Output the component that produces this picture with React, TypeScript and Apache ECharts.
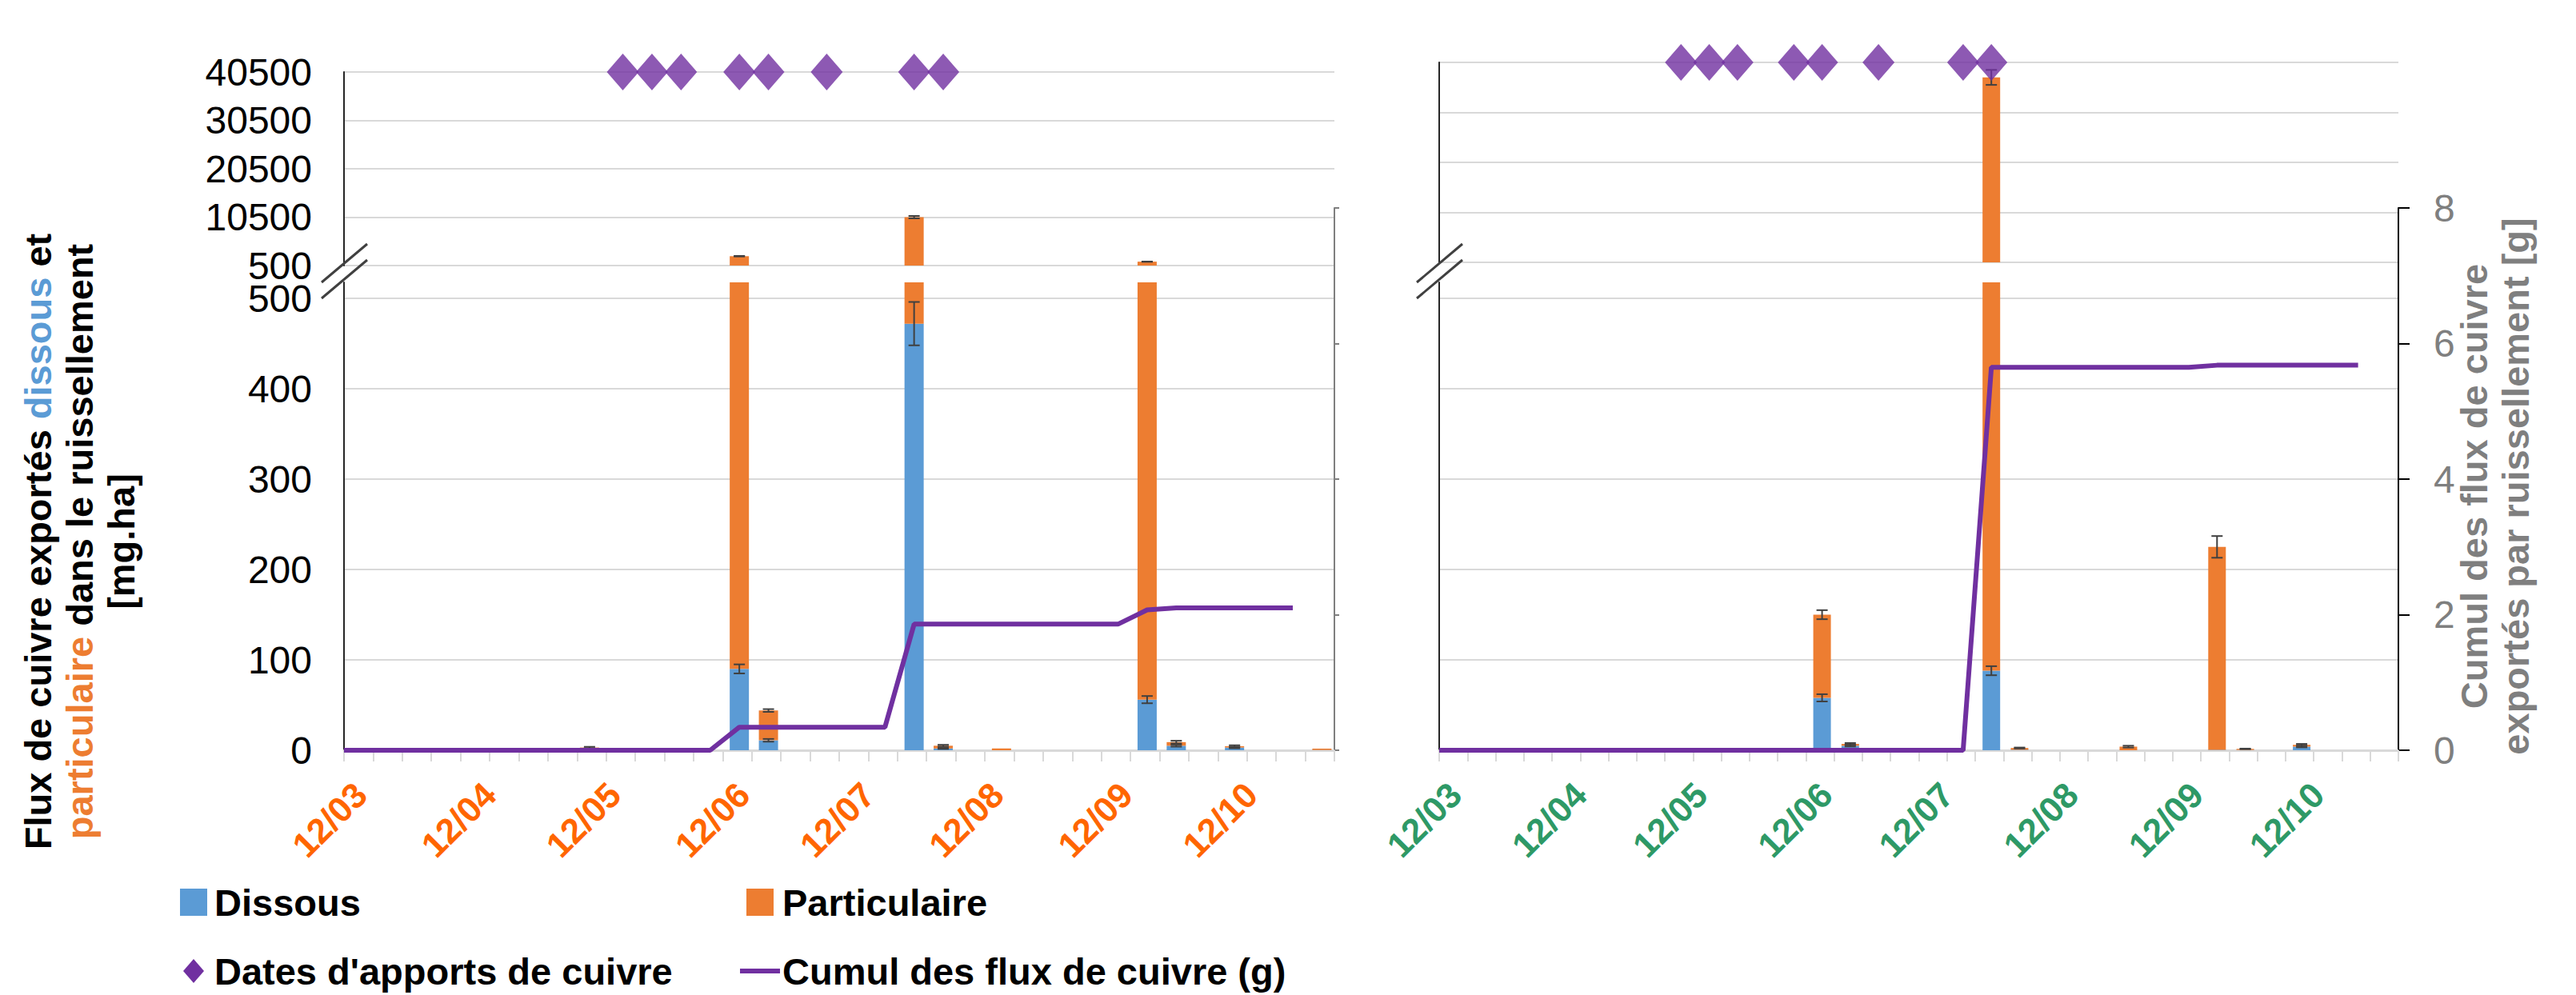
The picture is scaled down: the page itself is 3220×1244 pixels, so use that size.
import React, { useEffect, useRef } from "react";
import * as echarts from "echarts";

// ---------------- data ----------------
const START_DATE = "2012-02-26";
const END_DATE = "2012-10-21";

const UPPER_TICK_LABELS = ["500", "10500", "20500", "30500", "40500"];
const LOWER_TICK_LABELS = ["0", "100", "200", "300", "400", "500"];
const CUMUL_TICK_LABELS = ["0", "2", "4", "6", "8"];

// Left panel (orange dates)
const LEFT_BAR_DATES = ["2012-04-25", "2012-05-31", "2012-06-07", "2012-07-12", "2012-07-19", "2012-08-02", "2012-09-06", "2012-09-13", "2012-09-27", "2012-10-18"];
const LEFT_DISSOUS = [1, 90, 11, 472, 2, 0, 56, 5, 3, 0.3];
const LEFT_PARTICULAIRE = [2, 2344, 33, 10028, 3, 2, 1244, 4, 1.5, 1.5];
const LEFT_ERR_DISSOUS = [0, 5, 1.5, 24, 0.5, 0, 4, 1, 0.8, 0];
const LEFT_ERR_TOTAL = [0.8, 60, 1.5, 250, 1, 0, 30, 1.5, 1, 0];
const LEFT_APPORT_DATES = ["2012-05-03", "2012-05-10", "2012-05-17", "2012-05-31", "2012-06-07", "2012-06-21", "2012-07-12", "2012-07-19"];
const LEFT_CUMUL_DATES = ["2012-02-26", "2012-05-24", "2012-05-31", "2012-07-05", "2012-07-12", "2012-08-30", "2012-09-06", "2012-09-13", "2012-10-11"];
const LEFT_CUMUL = [0, 0, 0.34, 0.34, 1.86, 1.86, 2.07, 2.1, 2.1];

// Right panel (green dates)
const RIGHT_BAR_DATES = ["2012-05-31", "2012-06-07", "2012-07-12", "2012-07-19", "2012-08-15", "2012-09-06", "2012-09-13", "2012-09-27"];
const RIGHT_DISSOUS = [58, 5, 88, 0.5, 0, 0.5, 0.3, 4];
const RIGHT_PARTICULAIRE = [92, 2, 37412, 2, 4, 224.5, 1.2, 2];
const RIGHT_ERR_DISSOUS = [4, 0.8, 5, 0, 0, 0, 0, 0.8];
const RIGHT_ERR_TOTAL = [5, 1, 1500, 0.5, 1, 12, 0.3, 1];
const RIGHT_APPORT_DATES = ["2012-04-26", "2012-05-03", "2012-05-10", "2012-05-24", "2012-05-31", "2012-06-14", "2012-07-05", "2012-07-12"];
const RIGHT_CUMUL_DATES = ["2012-02-26", "2012-07-05", "2012-07-12", "2012-08-30", "2012-09-06", "2012-10-11"];
const RIGHT_CUMUL = [0, 0, 5.65, 5.65, 5.68, 5.68];

// ---------------- helpers ----------------
const DAY_MS = 86400000;
const parseDay = (s: string) => Date.UTC(+s.slice(0, 4), +s.slice(5, 7) - 1, +s.slice(8, 10));
const DAYS: string[] = [];
for (let t = parseDay(START_DATE); t <= parseDay(END_DATE); t += DAY_MS) {
  DAYS.push(new Date(t).toISOString().slice(0, 10));
}
const dayIndex = (s: string) => Math.round((parseDay(s) - parseDay(START_DATE)) / DAY_MS);

const UPPER_BASE = Number(UPPER_TICK_LABELS[0]);
const UPPER_INTERVAL = Number(UPPER_TICK_LABELS[1]) - UPPER_BASE;
const UPPER_SPAN = Number(UPPER_TICK_LABELS[UPPER_TICK_LABELS.length - 1]) - UPPER_BASE;
const LOWER_MAX = Number(LOWER_TICK_LABELS[LOWER_TICK_LABELS.length - 1]);
const LOWER_INTERVAL = Number(LOWER_TICK_LABELS[1]);
const CUMUL_MAX = Number(CUMUL_TICK_LABELS[CUMUL_TICK_LABELS.length - 1]);
const CUMUL_INTERVAL = Number(CUMUL_TICK_LABELS[1]);

// ---------------- layout / style ----------------
const FONT = '"Liberation Sans", Arial, sans-serif';
const COL_D = "#5B9BD5";
const COL_P = "#ED7D31";
const COL_PURPLE = "#7030A0";
const COL_GRID = "#D9D9D9";
const COL_AXIS = "#262626";

const Y_LOWER_500 = 373;
const Y_LOWER_CLIP = 353;
const Y_BASE = 938;
const Y_CUMUL_TOP = 260;
const LOWER_CLIP_MAX = (LOWER_MAX * (Y_BASE - Y_LOWER_CLIP)) / (Y_BASE - Y_LOWER_500);

const PANELS = [
  {
    left: 430, width: 1238, upperTop: 90, upperBottom: 332,
    labelColor: "#FF6600", leftLabels: true, rightLabels: false,
    rightAxisColor: "#7F7F7F", rightTickLen: 6, barWidth: 24,
    barDates: LEFT_BAR_DATES, dissous: LEFT_DISSOUS, particulaire: LEFT_PARTICULAIRE,
    errD: LEFT_ERR_DISSOUS, errT: LEFT_ERR_TOTAL, apports: LEFT_APPORT_DATES,
    cumDates: LEFT_CUMUL_DATES, cum: LEFT_CUMUL,
  },
  {
    left: 1799, width: 1199, upperTop: 78, upperBottom: 328,
    labelColor: "#2E9966", leftLabels: false, rightLabels: true,
    rightAxisColor: "#000000", rightTickLen: 14, barWidth: 22,
    barDates: RIGHT_BAR_DATES, dissous: RIGHT_DISSOUS, particulaire: RIGHT_PARTICULAIRE,
    errD: RIGHT_ERR_DISSOUS, errT: RIGHT_ERR_TOTAL, apports: RIGHT_APPORT_DATES,
    cumDates: RIGHT_CUMUL_DATES, cum: RIGHT_CUMUL,
  },
];

const renderErr = (params: any, api: any) => {
  const x = api.value(0);
  const c = api.value(1);
  const e = api.value(2);
  const top = api.coord([x, c + e]);
  const bot = api.coord([x, c - e]);
  const cap = 7;
  const style = { stroke: "#404040", lineWidth: 2 };
  return {
    type: "group",
    children: [
      { type: "line", shape: { x1: top[0], y1: top[1], x2: bot[0], y2: bot[1] }, style },
      { type: "line", shape: { x1: top[0] - cap, y1: top[1], x2: top[0] + cap, y2: top[1] }, style },
      { type: "line", shape: { x1: bot[0] - cap, y1: bot[1], x2: bot[0] + cap, y2: bot[1] }, style },
    ],
  };
};

function buildOption() {
  const grid: any[] = [];
  const xAxis: any[] = [];
  const yAxis: any[] = [];
  const series: any[] = [];
  const graphic: any[] = [];

  PANELS.forEach((p, pi) => {
    const base = pi * 4;
    const tops = [p.upperTop, Y_LOWER_500, Y_LOWER_CLIP, Y_CUMUL_TOP];
    const bottoms = [p.upperBottom, Y_BASE, Y_BASE, Y_BASE];
    for (let k = 0; k < 4; k++) {
      grid.push({
        left: p.left, width: p.width, top: tops[k], height: bottoms[k] - tops[k],
        containLabel: false, outerBoundsMode: "none",
      });
      xAxis.push({
        type: "category", gridIndex: base + k, data: DAYS, boundaryGap: false,
        show: k === 2,
        axisLine: { show: true, onZero: false, lineStyle: { color: COL_GRID, width: 3 } },
        axisTick: {
          show: true, length: 14, interval: (i: number) => i % 7 === 0,
          lineStyle: { color: COL_GRID, width: 2 },
        },
        axisLabel: {
          show: true, rotate: 45, margin: 48,
          interval: (i: number, v: string) => v.slice(8) === "01",
          formatter: (v: string) => `${v.slice(2, 4)}/${v.slice(5, 7)}`,
          color: p.labelColor, fontSize: 44, fontWeight: "bold", fontFamily: FONT,
        },
        splitLine: { show: false },
      });
    }
    const labelStyle = { color: "#000", fontSize: 48, lineHeight: 38, fontFamily: FONT, margin: 40 };
    yAxis.push({
      type: "value", gridIndex: base, min: 0, max: UPPER_SPAN, interval: UPPER_INTERVAL,
      axisLine: { show: true, lineStyle: { color: COL_AXIS, width: 2 } },
      axisTick: { show: false },
      axisLabel: { show: p.leftLabels, ...labelStyle, formatter: (v: number) => UPPER_TICK_LABELS[Math.round(v / UPPER_INTERVAL)] },
      splitLine: { show: true, lineStyle: { color: COL_GRID, width: 2 } },
    });
    yAxis.push({
      type: "value", gridIndex: base + 1, min: 0, max: LOWER_MAX, interval: LOWER_INTERVAL,
      axisLine: { show: false }, axisTick: { show: false },
      axisLabel: { show: p.leftLabels, ...labelStyle, formatter: (v: number) => LOWER_TICK_LABELS[Math.round(v / LOWER_INTERVAL)] },
      splitLine: { show: true, lineStyle: { color: COL_GRID, width: 2 } },
    });
    yAxis.push({
      type: "value", gridIndex: base + 2, min: 0, max: LOWER_CLIP_MAX,
      axisLine: { show: true, onZero: false, lineStyle: { color: COL_AXIS, width: 2 } },
      axisTick: { show: false }, axisLabel: { show: false }, splitLine: { show: false },
    });
    yAxis.push({
      type: "value", gridIndex: base + 3, position: "right", min: 0, max: CUMUL_MAX, interval: CUMUL_INTERVAL,
      axisLine: { show: true, lineStyle: { color: p.rightAxisColor, width: 2 } },
      axisTick: { show: true, inside: false, length: p.rightTickLen, lineStyle: { color: p.rightAxisColor, width: 2 } },
      axisLabel: {
        show: p.rightLabels, color: "#7F7F7F", fontSize: 48, fontFamily: FONT, margin: 44,
        formatter: (v: number) => CUMUL_TICK_LABELS[Math.round(v / CUMUL_INTERVAL)],
      },
      splitLine: { show: false },
    });

    const xs = p.barDates.map(dayIndex);
    const total = p.dissous.map((d, i) => d + p.particulaire[i]);

    // lower section bars
    series.push({
      type: "bar", name: "Dissous", xAxisIndex: base + 2, yAxisIndex: base + 2, stack: "low" + pi,
      barWidth: p.barWidth, itemStyle: { color: COL_D }, data: xs.map((x, i) => [x, p.dissous[i]]),
    });
    series.push({
      type: "bar", name: "Particulaire", xAxisIndex: base + 2, yAxisIndex: base + 2, stack: "low" + pi,
      barWidth: p.barWidth, itemStyle: { color: COL_P }, data: xs.map((x, i) => [x, p.particulaire[i]]),
    });
    // upper section bars (values above the break)
    const upIdx = xs.map((_, i) => i).filter((i) => total[i] > UPPER_BASE);
    series.push({
      type: "bar", name: "Dissous", xAxisIndex: base, yAxisIndex: base, stack: "up" + pi,
      barWidth: p.barWidth, itemStyle: { color: COL_D },
      data: upIdx.map((i) => [xs[i], Math.max(0, p.dissous[i] - UPPER_BASE)]),
    });
    series.push({
      type: "bar", name: "Particulaire", xAxisIndex: base, yAxisIndex: base, stack: "up" + pi,
      barWidth: p.barWidth, itemStyle: { color: COL_P },
      data: upIdx.map((i) => [xs[i], total[i] - UPPER_BASE - Math.max(0, p.dissous[i] - UPPER_BASE)]),
    });
    // error bars
    const lowErr: number[][] = [];
    const upErr: number[][] = [];
    xs.forEach((x, i) => {
      if (p.errD[i] > 0) lowErr.push([x, p.dissous[i], p.errD[i]]);
      if (p.errT[i] > 0 && total[i] + p.errT[i] < LOWER_CLIP_MAX) lowErr.push([x, total[i], p.errT[i]]);
      if (p.errT[i] > 0 && total[i] > UPPER_BASE) upErr.push([x, total[i] - UPPER_BASE, p.errT[i]]);
    });
    series.push({
      type: "custom", xAxisIndex: base + 2, yAxisIndex: base + 2, renderItem: renderErr,
      encode: { x: 0, y: 1 }, data: lowErr, z: 3, silent: true,
    });
    series.push({
      type: "custom", xAxisIndex: base, yAxisIndex: base, renderItem: renderErr,
      encode: { x: 0, y: 1 }, data: upErr, z: 3, silent: true,
    });
    // copper application dates
    series.push({
      type: "scatter", name: "Dates d'apports de cuivre", xAxisIndex: base, yAxisIndex: base,
      symbol: "diamond", symbolSize: [40, 46], itemStyle: { color: COL_PURPLE }, clip: false, z: 4,
      data: p.apports.map((d) => [dayIndex(d), UPPER_SPAN]),
    });
    // cumulative line
    series.push({
      type: "line", name: "Cumul des flux de cuivre (g)", xAxisIndex: base + 3, yAxisIndex: base + 3,
      showSymbol: false, symbol: "none", lineStyle: { color: COL_PURPLE, width: 6 }, z: 5,
      data: p.cumDates.map((d, i) => [dayIndex(d), p.cum[i]]),
    });

    // axis break marks
    const ax = p.left;
    const bs = { stroke: "#404040", lineWidth: 3 };
    graphic.push({ type: "line", z: 100, shape: { x1: ax + 29, y1: 305, x2: ax - 28, y2: 353 }, style: bs });
    graphic.push({ type: "line", z: 100, shape: { x1: ax + 29, y1: 325, x2: ax - 28, y2: 373 }, style: bs });
  });

  const bold = `bold 47px ${FONT}`;
  const richPart = (fill: string) => ({ fill, font: bold, fontSize: 47, fontWeight: "bold", fontFamily: FONT, lineHeight: 52 });
  // left axis title
  graphic.push({
    type: "text", x: 99, y: 677, rotation: Math.PI / 2, z: 100,
    style: {
      text: "{k|Flux de cuivre exportés }{b|dissous}{k| et}\n{o|particulaire}{k| dans le ruissellement}\n{k|[mg.ha]}",
      align: "center", verticalAlign: "middle", font: bold, lineHeight: 52, fill: "#000",
      rich: { k: richPart("#000"), b: richPart(COL_D), o: richPart(COL_P) },
    },
  });
  // right axis title
  graphic.push({
    type: "text", x: 3118, y: 608, rotation: Math.PI / 2, z: 100,
    style: {
      text: "Cumul des flux de cuivre\nexportés par ruissellement [g]",
      align: "center", verticalAlign: "middle", font: bold, lineHeight: 52, fill: "#7F7F7F",
    },
  });
  // legend
  const row1 = 1128;
  const row2 = 1214;
  const lt = (x: number, y: number, text: string) => ({
    type: "text", x, y, z: 100, style: { text, font: bold, fill: "#000", align: "left", verticalAlign: "middle" },
  });
  graphic.push({ type: "rect", z: 100, shape: { x: 225, y: row1 - 17, width: 34, height: 34 }, style: { fill: COL_D } });
  graphic.push(lt(268, row1, "Dissous"));
  graphic.push({ type: "rect", z: 100, shape: { x: 933, y: row1 - 17, width: 34, height: 34 }, style: { fill: COL_P } });
  graphic.push(lt(978, row1, "Particulaire"));
  graphic.push({
    type: "polygon", z: 100,
    shape: { points: [[242, row2 - 15], [255, row2], [242, row2 + 15], [229, row2]] }, style: { fill: COL_PURPLE },
  });
  graphic.push(lt(268, row2, "Dates d'apports de cuivre"));
  graphic.push({ type: "line", z: 100, shape: { x1: 925, y1: row2, x2: 975, y2: row2 }, style: { stroke: COL_PURPLE, lineWidth: 6 } });
  graphic.push(lt(978, row2, "Cumul des flux de cuivre (g)"));

  return {
    animation: false,
    backgroundColor: "#ffffff",
    textStyle: { fontFamily: FONT },
    grid, xAxis, yAxis, series, graphic,
  };
}

export default function App() {
  const ref = useRef<HTMLDivElement>(null);
  useEffect(() => {
    if (!ref.current) return;
    const chart = echarts.init(ref.current, null, { renderer: "svg" });
    chart.setOption(buildOption() as any);
    return () => chart.dispose();
  }, []);
  return (
    <div
      ref={ref}
      style={{ position: "fixed", left: 0, top: 0, width: 3220, height: 1244, background: "#fff" }}
    />
  );
}
